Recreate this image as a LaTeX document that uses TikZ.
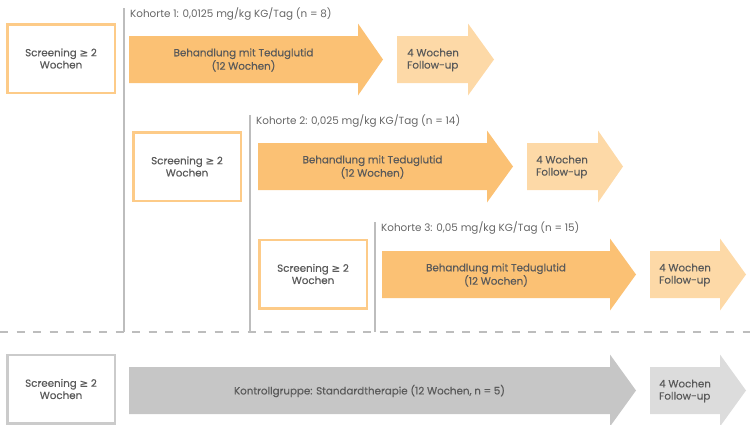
\documentclass[tikz,border=0pt]{standalone}
\usepackage{fontspec}
\setmainfont{Poppins}
\newfontfamily\medfont{Poppins}[FakeBold=0.35]
\newfontfamily\symfont{DejaVu Sans}[FakeBold=0.35]
\definecolor{txt}{HTML}{5A5A5A}
\definecolor{lbl}{HTML}{666666}
\definecolor{mainor}{HTML}{FBC174}
\definecolor{folor}{HTML}{FDD9A7}
\definecolor{boxor}{HTML}{FDCB88}
\definecolor{maingr}{HTML}{C6C6C6}
\definecolor{folgr}{HTML}{DCDCDC}
\definecolor{boxgr}{HTML}{CBCBCB}
\definecolor{linegr}{HTML}{BDBDBD}
\newcommand\flowarrow[5]{%
  \fill[#1] (#2,#5-23.5) -- (#3,#5-23.5) -- (#3,#5-36) -- (#4,#5) -- (#3,#5+36) -- (#3,#5+23.5) -- (#2,#5+23.5) -- cycle;}
\begin{document}
\begin{tikzpicture}[x=1pt,y=-1pt,
  every node/.style={text=txt, font=\medfont\fontsize{10.3}{12.2}\selectfont},
  screen/.style={draw=boxor, line width=2.5pt, minimum width=107.5pt, minimum height=68.5pt, inner sep=0pt, align=center, fill=white},
  screengr/.style={screen, draw=boxgr},
  armtext/.style={align=center, inner sep=0pt},
  foltext/.style={align=left, anchor=west, inner sep=0pt},
  kohorte/.style={anchor=west, inner sep=0pt, text=lbl, font=\rmfamily\fontsize{10.4}{12}\selectfont},
  vline/.style={draw=linegr, line width=1.2pt},
  sep/.style={draw=linegr, line width=1.2pt, dash pattern=on 8pt off 8.5pt}]
\useasboundingbox (0,0) rectangle (750,424);
% vertical lines
\coordinate (v1t) at (124,8);   \coordinate (v1b) at (124,332);
\coordinate (v2t) at (250,115); \coordinate (v2b) at (250,332);
\coordinate (v3t) at (375,222); \coordinate (v3b) at (375,332);
\draw[vline] (v1t) -- (v1b);
\draw[vline] (v2t) -- (v2b);
\draw[vline] (v3t) -- (v3b);
\coordinate (sl) at (0,332); \coordinate (sr) at (750,332);
\draw[sep] (sl) -- (sr);
% row 1
\node[screen] (s1) at (61,58.5) {Screening {\symfont ≥} 2\\Wochen};
\node[kohorte] (k1) at (130,14) {Kohorte 1: 0,0125 mg/kg KG/Tag (n = 8)};
\flowarrow{mainor}{129}{358}{383}{59.5}
\flowarrow{folor}{397}{468}{494}{59.5}
\node[armtext] (a1) at (243.5,60) {Behandlung mit Teduglutid\\(12 Wochen)};
\node[foltext] (f1) at (407,60) {4 Wochen\\Follow-up};
% row 2
\node[screen] (s2) at (187,166.5) {Screening {\symfont ≥} 2\\Wochen};
\node[kohorte] (k2) at (256,121) {Kohorte 2: 0,025 mg/kg KG/Tag (n = 14)};
\flowarrow{mainor}{258}{487}{513}{166.5}
\flowarrow{folor}{527}{598}{623}{166.5}
\node[armtext] (a2) at (372.5,167) {Behandlung mit Teduglutid\\(12 Wochen)};
\node[foltext] (f2) at (536,167) {4 Wochen\\Follow-up};
% row 3
\node[screen] (s3) at (313,274) {Screening {\symfont ≥} 2\\Wochen};
\node[kohorte] (k3) at (381,228) {Kohorte 3: 0,05 mg/kg KG/Tag (n = 15)};
\flowarrow{mainor}{382}{610}{636}{274.5}
\flowarrow{folor}{650}{720}{746}{274.5}
\node[armtext] (a3) at (496,275) {Behandlung mit Teduglutid\\(12 Wochen)};
\node[foltext] (f3) at (659,275) {4 Wochen\\Follow-up};
% control row
\node[screengr] (s4) at (61,389) {Screening {\symfont ≥} 2\\Wochen};
\flowarrow{maingr}{129}{610}{636}{390.5}
\flowarrow{folgr}{650}{720}{746}{390.5}
\node[armtext] (a4) at (369.5,391) {Kontrollgruppe: Standardtherapie (12 Wochen, n = 5)};
\node[foltext] (f4) at (659,391) {4 Wochen\\Follow-up};
\end{tikzpicture}
\end{document}
